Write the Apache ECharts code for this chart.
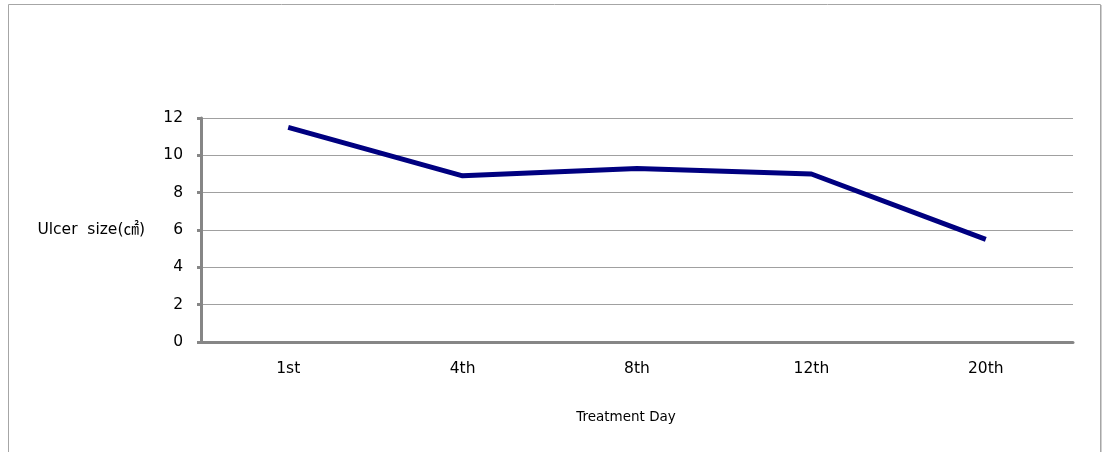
<!DOCTYPE html>
<html><head><meta charset="utf-8">
<script src="https://cdn.jsdelivr.net/npm/echarts@6/dist/echarts.min.js"></script>
<style>html,body{margin:0;padding:0;background:#fff}#c{width:1103px;height:452px}</style>
</head><body><div id="c"></div>
<script>
const categories = ['1st', '4th', '8th', '12th', '20th'];
const ulcerSize = [11.5, 8.9, 9.3, 9.0, 5.5];
const yTicks = [0, 2, 4, 6, 8, 10, 12];

const font = '"DejaVu Sans", "Noto Sans CJK KR", sans-serif';
const chart = echarts.init(document.getElementById('c'));
chart.setOption({
  animation: false,
  backgroundColor: '#fff',
  graphic: [{
    type: 'polyline',
    shape: { points: [[8.5, 460], [8.5, 4.5], [1100.5, 4.5], [1100.5, 460]] },
    style: { stroke: '#a6a6a6', lineWidth: 1, fill: null }
  }, {
    type: 'polyline',
    shape: { points: [[1101.5, 5], [1101.5, 460]] },
    style: { stroke: '#d0d0d0', lineWidth: 1, fill: null }
  }],
  grid: { left: 201, right: 30, top: 118, bottom: 110, containLabel: false },
  xAxis: {
    type: 'category',
    data: categories,
    boundaryGap: true,
    name: 'Treatment Day',
    nameLocation: 'middle',
    nameGap: 69,
    nameTextStyle: { fontFamily: font, fontSize: 13.5, color: '#000', padding: [0, 22, 0, 0] },
    axisLine: { lineStyle: { color: '#868686', width: 3 } },
    axisTick: { show: false },
    axisLabel: { fontFamily: font, fontSize: 15.5, color: '#000', margin: 19 },
    splitLine: { show: false }
  },
  yAxis: {
    type: 'value',
    min: yTicks[0],
    max: yTicks[yTicks.length - 1],
    interval: 2,
    name: 'Ulcer  size(㎠)',
    nameLocation: 'middle',
    nameRotate: 0,
    nameGap: 56,
    nameTextStyle: { fontFamily: font, fontSize: 15.5, color: '#000', align: 'right', verticalAlign: 'middle' },
    axisLine: { show: true, lineStyle: { color: '#868686', width: 3 } },
    axisTick: { show: true, length: 4, lineStyle: { color: '#868686', width: 3 } },
    axisLabel: { fontFamily: font, fontSize: 15.5, color: '#000', margin: 18 },
    splitLine: { show: true, lineStyle: { color: '#a0a0a0', width: 1 } }
  },
  series: [{
    type: 'line',
    data: ulcerSize,
    symbol: 'none',
    lineStyle: { color: '#000080', width: 5 },
    itemStyle: { color: '#000080' }
  }]
});
</script></body></html>
